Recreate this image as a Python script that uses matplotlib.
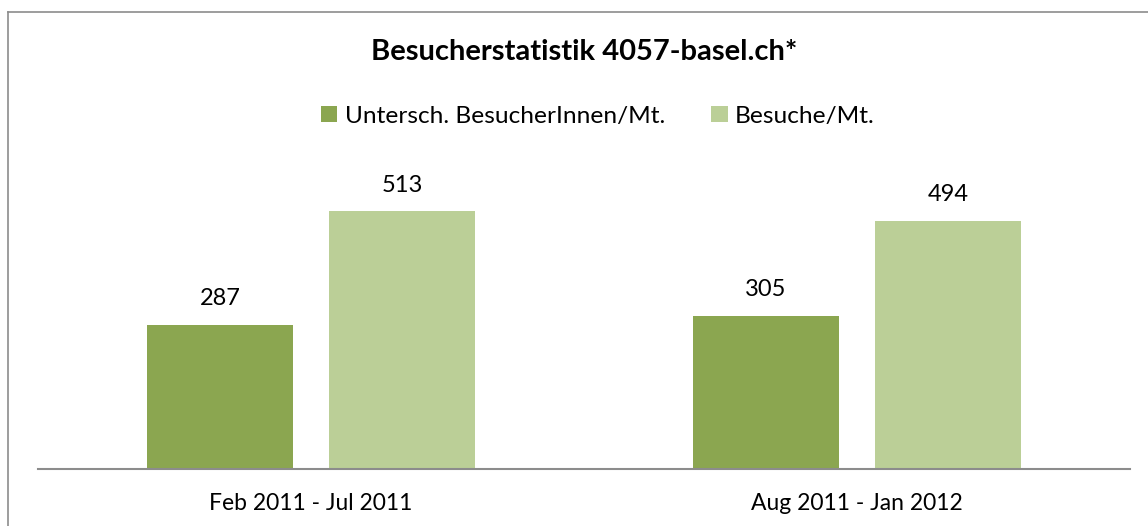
import numpy as np
import matplotlib.pyplot as plt
from matplotlib.lines import Line2D

plt.rcParams['font.family'] = ['Lato', 'DejaVu Sans']

categories = ["Feb 2011 - Jul 2011", "Aug 2011 - Jan 2012"]
series_names = ["Untersch. BesucherInnen/Mt.", "Besuche/Mt."]
unique_visitors = [287, 305]
visits = [513, 494]
colors = ["#8BA650", "#BBCF97"]

W, H = 1148, 526
fig = plt.figure(figsize=(W / 100, H / 100), dpi=100)
ax = fig.add_axes([38 / W, (H - 468.5) / H, 1092 / W, 300.6 / H])

x = np.arange(len(categories))
width = 0.267
off = 0.1667
b1 = ax.bar(x - off, unique_visitors, width, color=colors[0], label=series_names[0])
b2 = ax.bar(x + off, visits, width, color=colors[1], label=series_names[1])

for bars in (b1, b2):
    for rect in bars:
        h = rect.get_height()
        ax.annotate(str(int(h)), (rect.get_x() + rect.get_width() / 2, h),
                    xytext=(0, 19), textcoords='offset points',
                    ha='center', va='center', fontsize=17)

ax.set_xlim(-0.5, 1.5)
ax.set_ylim(0, 600)
ax.set_xticks(x)
ax.set_xticklabels(categories, fontsize=16.5)
ax.tick_params(axis='x', length=0, pad=18)
ax.set_yticks([])
for s in ['top', 'right', 'left']:
    ax.spines[s].set_visible(False)
ax.spines['bottom'].set_color('#8c8c8c')
ax.spines['bottom'].set_linewidth(1.5)

fig.text(584 / W, 1 - 52 / H, "Besucherstatistik 4057-basel.ch*",
         ha='center', va='center', fontsize=21, fontweight='bold')

fig.legend(handles=[b1, b2], loc='center', bbox_to_anchor=(598 / W, 1 - 116 / H),
           ncol=2, frameon=False, fontsize=17.6, handlelength=0.66,
           handleheight=0.66, handletextpad=0.3, columnspacing=1.9)

# chart border (only left and top edges visible in the crop)
fig.add_artist(Line2D([8 / W, 8 / W], [0, 1 - 12 / H], transform=fig.transFigure,
                      color='#8c8c8c', lw=1.2))
fig.add_artist(Line2D([8 / W, 1], [1 - 12 / H, 1 - 12 / H], transform=fig.transFigure,
                      color='#8c8c8c', lw=1.2))

fig.savefig("out.png", dpi=100)
